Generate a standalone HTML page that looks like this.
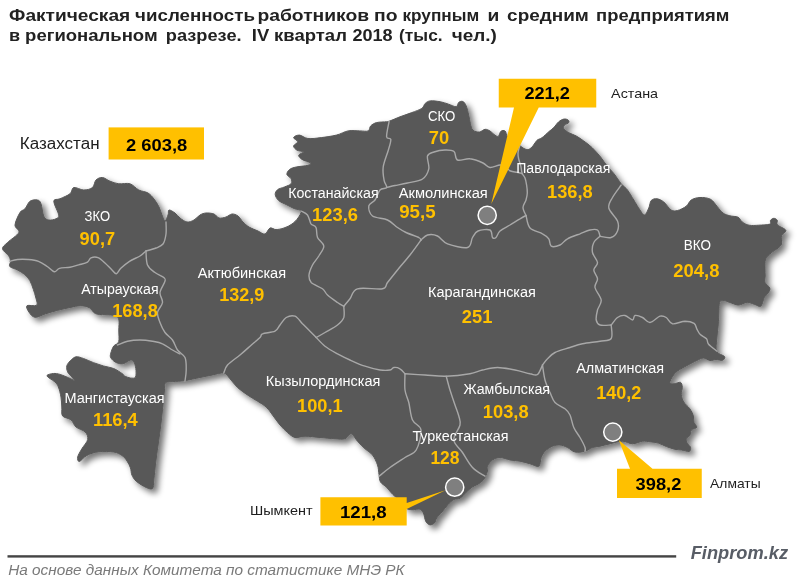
<!DOCTYPE html>
<html lang="ru"><head><meta charset="utf-8"><title>Фактическая численность работников</title>
<style>
html,body{margin:0;padding:0;background:#fff}
body{width:800px;height:586px;position:relative;overflow:hidden;font-family:"Liberation Sans","DejaVu Sans",sans-serif}
svg text{white-space:pre}
</style></head><body>
<svg width="800" height="586" viewBox="0 0 800 586" style="position:absolute;left:0;top:0">
<defs><filter id="sh" x="-5%" y="-5%" width="112%" height="112%"><feGaussianBlur in="SourceAlpha" stdDeviation="3"/><feOffset dx="4" dy="4"/><feComponentTransfer><feFuncA type="linear" slope="0.55"/></feComponentTransfer><feMerge><feMergeNode/><feMergeNode in="SourceGraphic"/></feMerge></filter></defs>
<path d="M2.5,248.8C2.3,246.5 4.8,245.2 7.5,242.5C10.2,239.8 17.5,235.4 18.8,232.5C20.0,229.6 14.8,228.3 15.0,225.0C15.2,221.7 18.3,215.2 20.0,212.5C21.7,209.8 23.3,210.6 25.0,208.8C26.7,206.9 27.9,202.7 30.0,201.2C32.1,199.8 35.7,199.6 37.5,200.0C39.3,200.4 40.0,201.0 41.0,203.8C42.0,206.5 42.5,213.5 43.8,216.2C45.0,219.0 46.7,219.6 48.8,220.0C50.8,220.4 54.3,219.6 56.0,218.8C57.7,217.9 59.1,217.9 58.8,215.0C58.4,212.1 53.5,204.0 53.8,201.2C54.0,198.5 57.3,200.0 60.0,198.8C62.7,197.5 67.7,195.6 70.0,193.8C72.3,191.9 71.5,188.1 73.8,187.5C76.0,186.9 80.6,190.0 83.8,190.0C86.9,190.0 90.5,189.2 92.5,187.5C94.5,185.8 94.3,181.7 96.0,180.0C97.7,178.3 100.2,177.3 102.5,177.5C104.8,177.7 107.3,180.2 110.0,181.2C112.7,182.3 115.4,183.3 118.8,183.8C122.1,184.2 126.7,182.7 130.0,183.8C133.3,184.8 135.8,188.5 138.8,190.0C141.8,191.5 145.5,191.5 148.0,193.0C150.5,194.5 152.2,196.7 154.0,199.0C155.8,201.3 157.7,204.3 159.0,207.0C160.3,209.7 161.0,212.7 162.0,215.0C163.0,217.3 164.0,221.0 165.0,221.0C166.0,221.0 167.3,216.8 168.0,215.0C168.7,213.2 167.8,210.3 169.0,210.0C170.2,209.7 173.2,211.7 175.0,213.0C176.8,214.3 178.0,216.5 180.0,218.0C182.0,219.5 184.7,221.7 187.0,222.0C189.3,222.3 191.8,221.2 194.0,220.0C196.2,218.8 198.0,216.2 200.0,215.0C202.0,213.8 203.7,213.2 206.0,213.0C208.3,212.8 211.8,213.2 214.0,214.0C216.2,214.8 217.0,217.5 219.0,218.0C221.0,218.5 223.8,217.7 226.0,217.0C228.2,216.3 230.0,214.2 232.0,214.0C234.0,213.8 236.2,214.7 238.0,216.0C239.8,217.3 241.2,220.2 243.0,222.0C244.8,223.8 246.5,225.5 249.0,227.0C251.5,228.5 255.3,229.8 258.0,231.0C260.7,232.2 263.0,234.5 265.0,234.0C267.0,233.5 268.2,228.7 270.0,228.0C271.8,227.3 273.7,229.6 276.0,229.6C278.3,229.6 281.3,228.9 284.0,228.0C286.7,227.1 289.7,225.7 292.0,224.0C294.3,222.3 296.5,220.2 298.0,218.0C299.5,215.8 301.7,212.6 301.0,211.0C300.3,209.4 296.5,209.6 294.0,208.5C291.5,207.4 288.7,205.8 286.1,204.5C283.5,203.2 280.4,202.2 278.6,200.5C276.8,198.8 275.4,196.4 275.2,194.6C275.0,192.8 276.2,190.9 277.7,189.6C279.2,188.3 282.2,188.0 284.4,187.0C286.6,186.0 290.0,185.1 291.1,183.7C292.2,182.3 291.8,180.2 291.1,178.7C290.4,177.2 287.2,176.0 286.9,174.5C286.6,173.0 287.9,170.8 289.5,169.5C291.1,168.2 293.1,167.7 296.2,167.0C299.3,166.3 305.5,166.0 307.9,165.3C310.3,164.6 311.4,163.8 310.4,162.8C309.4,161.8 303.9,160.7 302.0,159.4C300.1,158.1 298.4,156.4 298.7,155.2C299.0,153.9 304.0,152.7 303.7,151.9C303.4,151.1 298.7,151.2 297.0,150.2C295.3,149.2 293.5,147.4 293.6,146.0C293.7,144.6 297.8,143.2 297.8,141.8C297.8,140.4 293.3,138.7 293.6,137.6C293.9,136.5 297.1,134.9 299.5,135.1C301.9,135.2 304.3,138.1 307.9,138.5C311.5,138.9 316.6,138.2 321.3,137.6C326.1,137.0 331.9,136.2 336.4,135.1C340.9,134.0 344.2,131.6 348.1,130.9C352.0,130.2 356.5,130.9 359.8,130.9C363.1,130.9 366.4,131.7 368.2,130.9C370.0,130.1 369.3,127.3 370.7,125.9C372.1,124.5 374.0,123.3 376.6,122.6C379.2,121.9 384.4,122.0 386.6,121.7C388.8,121.4 387.8,121.7 390.0,120.9C392.2,120.1 396.4,118.2 400.0,116.8C403.6,115.4 408.2,114.0 411.8,112.6C415.4,111.2 419.6,109.9 421.8,108.4C424.0,106.9 423.8,104.7 425.2,103.4C426.6,102.2 427.7,101.2 430.2,100.9C432.7,100.6 437.1,101.2 440.2,101.7C443.3,102.2 445.9,103.4 448.6,104.2C451.3,105.0 454.5,107.0 456.2,106.7C457.9,106.4 457.6,103.3 458.7,102.4C459.8,101.5 461.6,100.9 462.9,101.5C464.1,102.1 465.2,103.6 466.2,105.9C467.2,108.2 468.0,112.2 468.7,115.1C469.4,118.0 469.7,121.0 470.4,123.5C471.1,126.0 471.4,128.8 472.9,130.2C474.4,131.6 477.5,132.2 479.5,132.0C481.5,131.8 483.2,129.5 485.0,129.3C486.8,129.1 488.3,130.0 490.0,131.0C491.7,132.0 493.6,134.3 495.0,135.2C496.4,136.1 497.4,136.8 498.4,136.2C499.4,135.5 499.8,132.2 500.9,131.3C502.0,130.4 504.0,130.1 505.1,131.0C506.2,131.9 506.3,135.3 507.6,136.8C508.9,138.3 511.1,138.6 513.0,140.0C514.9,141.4 517.0,143.5 519.0,145.0C521.0,146.5 523.3,148.3 525.0,149.0C526.7,149.7 527.7,149.8 529.0,149.3C530.3,148.8 531.7,147.3 533.0,145.8C534.3,144.3 535.5,141.7 537.0,140.3C538.5,139.0 540.0,139.1 542.0,137.7C544.0,136.3 546.8,133.5 548.7,131.8C550.7,130.1 552.0,129.3 553.7,127.6C555.4,125.9 557.0,123.2 558.7,121.8C560.4,120.4 562.2,119.4 563.7,119.1C565.2,118.8 567.0,119.2 567.9,119.8C568.8,120.4 569.3,121.7 568.8,122.6C568.2,123.5 565.5,124.1 564.6,125.1C563.8,126.1 563.0,127.2 563.7,128.5C564.4,129.8 566.7,131.4 568.8,132.7C570.9,133.9 573.8,134.6 576.3,136.0C578.8,137.4 581.1,139.1 583.8,141.0C586.4,142.9 589.4,145.0 592.2,147.7C595.0,150.4 598.1,153.9 600.6,157.0C603.1,160.1 605.1,163.4 607.3,166.2C609.5,169.0 611.7,170.8 614.0,173.7C616.3,176.6 619.0,181.0 621.2,183.8C623.5,186.5 625.4,187.3 627.5,190.0C629.6,192.7 631.7,196.7 633.8,200.0C635.8,203.3 638.2,207.5 640.0,210.0C641.8,212.5 643.0,215.3 644.5,215.0C646.0,214.7 647.6,210.4 648.8,208.0C649.9,205.6 649.9,202.0 651.2,200.5C652.6,199.0 654.9,198.5 657.0,198.8C659.1,199.0 661.4,200.1 663.8,202.0C666.1,203.9 669.0,208.6 671.2,210.0C673.5,211.4 675.0,211.1 677.5,210.5C680.0,209.9 684.0,208.0 686.2,206.2C688.5,204.5 689.0,201.5 691.2,200.0C693.5,198.5 696.8,197.6 700.0,197.5C703.2,197.4 707.7,197.7 710.6,199.3C713.5,200.9 715.4,204.6 717.5,206.9C719.6,209.2 720.9,211.5 723.0,213.0C725.1,214.5 727.4,215.1 729.9,215.8C732.4,216.5 736.0,216.2 738.1,217.2C740.2,218.2 740.5,220.7 742.3,222.0C744.1,223.3 746.4,224.7 749.1,225.2C751.9,225.7 755.3,225.4 758.8,225.2C762.2,225.0 767.8,224.9 769.8,224.1C771.8,223.3 769.8,221.3 770.5,220.3C771.2,219.3 772.8,218.3 773.9,218.3C775.0,218.3 776.7,219.2 777.3,220.3C777.9,221.4 776.1,223.1 777.5,224.8C778.9,226.5 785.1,228.5 785.8,230.3C786.5,232.1 782.2,233.5 781.5,235.8C780.8,238.1 782.1,241.9 781.5,244.0C780.9,246.1 779.7,246.6 778.0,248.1C776.3,249.6 773.2,251.2 771.1,253.0C769.0,254.8 766.6,256.5 765.6,259.1C764.6,261.7 765.1,266.0 765.0,268.8C764.9,271.6 765.2,273.7 765.2,276.0C765.2,278.3 764.2,280.4 765.0,282.4C765.8,284.4 769.2,286.2 769.8,287.9C770.4,289.6 769.3,291.1 768.4,292.7C767.5,294.3 765.6,295.2 764.3,297.5C763.0,299.8 762.4,305.1 760.8,306.2C759.2,307.3 756.9,305.0 754.6,304.4C752.3,303.8 749.7,302.2 747.1,302.3C744.5,302.4 741.4,305.0 738.8,305.1C736.2,305.2 733.9,303.8 731.3,303.0C728.7,302.2 725.0,300.4 723.0,300.3C721.0,300.2 720.3,300.7 719.6,302.5C718.9,304.3 719.1,307.6 718.9,311.3C718.7,315.1 718.6,320.4 718.2,325.0C717.9,329.6 717.0,334.4 716.8,338.8C716.5,343.2 715.4,348.6 716.7,351.5C718.0,354.4 723.5,355.0 724.5,356.5C725.5,358.0 723.9,359.8 722.5,360.3C721.1,360.8 718.1,359.5 716.0,359.5C713.9,359.5 712.1,360.8 710.0,360.5C707.9,360.2 705.7,358.0 703.5,358.0C701.3,358.0 699.5,359.2 696.8,360.5C694.1,361.8 690.3,363.8 687.1,365.5C683.9,367.2 679.9,369.2 677.5,371.0C675.1,372.8 674.0,374.4 672.7,376.3C671.4,378.2 669.7,381.4 669.9,382.7C670.1,383.9 672.3,383.9 674.1,383.8C675.9,383.7 679.1,381.7 680.5,382.3C681.9,382.9 682.2,385.3 682.3,387.3C682.4,389.3 681.1,392.1 681.3,394.5C681.5,396.9 682.3,399.5 683.7,401.9C685.1,404.3 688.3,406.5 689.9,408.8C691.5,411.1 692.6,413.3 693.3,415.6C694.0,417.9 693.4,420.6 694.0,422.5C694.6,424.4 697.2,426.0 696.8,427.3C696.3,428.6 692.4,428.7 691.3,430.1C690.1,431.5 690.7,434.2 689.9,435.6C689.1,437.0 687.0,437.1 686.5,438.3C686.0,439.6 686.4,441.6 687.1,443.1C687.8,444.6 690.2,445.9 690.6,447.3C691.0,448.7 690.7,450.9 689.2,451.4C687.7,451.8 684.0,450.4 681.6,450.0C679.2,449.6 677.3,449.9 674.8,449.3C672.3,448.7 669.2,447.6 666.5,446.6C663.8,445.6 661.0,443.9 658.3,443.1C655.5,442.3 652.6,442.1 650.0,441.8C647.4,441.5 645.4,440.9 642.5,441.2C639.6,441.6 635.8,443.8 632.5,443.8C629.2,443.8 626.2,441.2 622.5,441.2C618.8,441.2 613.8,442.9 610.0,443.8C606.2,444.6 602.9,445.6 600.0,446.2C597.1,446.9 595.0,446.7 592.5,447.5C590.0,448.3 587.9,450.5 585.0,451.2C582.1,452.0 577.9,452.6 575.0,452.0C572.1,451.4 570.0,448.7 567.5,447.5C565.0,446.3 562.5,445.2 560.0,445.0C557.5,444.8 555.0,445.2 552.5,446.2C550.0,447.3 546.9,449.4 545.0,451.2C543.1,453.1 542.3,455.0 541.2,457.5C540.2,460.0 540.6,465.2 538.8,466.2C536.9,467.3 533.1,464.6 530.0,463.8C526.9,462.9 523.3,461.9 520.0,461.2C516.7,460.6 513.3,460.6 510.0,460.0C506.7,459.4 502.9,457.5 500.0,457.5C497.1,457.5 494.6,458.5 492.5,460.0C490.4,461.5 488.3,464.4 487.5,466.2C486.7,468.1 487.8,469.3 487.5,471.0C487.2,472.7 486.2,474.9 485.5,476.5C484.8,478.1 484.2,479.2 483.0,480.5C481.8,481.8 479.8,483.1 478.0,484.2C476.2,485.3 474.0,485.8 472.0,487.2C470.0,488.6 468.0,490.6 466.0,492.5C464.0,494.4 462.0,497.1 460.0,498.3C458.0,499.5 456.0,498.5 454.0,499.5C452.0,500.5 450.0,502.4 448.0,504.5C446.0,506.6 443.9,509.8 442.0,512.0C440.1,514.2 437.9,516.2 436.7,518.0C435.4,519.8 435.6,521.9 434.5,523.0C433.4,524.1 431.4,525.1 430.0,524.9C428.6,524.6 426.9,523.5 425.8,521.5C424.7,519.5 424.4,515.0 423.4,513.0C422.3,510.9 421.1,509.7 419.5,509.2C417.9,508.7 415.5,509.8 413.5,509.8C411.5,509.8 409.1,509.8 407.5,509.0C405.9,508.2 405.4,506.6 404.0,505.0C402.6,503.4 400.6,501.0 399.0,499.5C397.4,498.0 396.0,497.4 394.7,496.2C393.4,495.0 392.4,494.0 391.0,492.5C389.6,491.0 388.2,488.9 386.5,487.2C384.8,485.4 381.8,484.1 380.5,482.0C379.2,479.9 379.5,477.3 379.0,474.5C378.5,471.7 378.6,468.2 377.5,465.0C376.4,461.8 374.6,457.7 372.5,455.0C370.4,452.3 367.5,451.0 365.0,448.8C362.5,446.5 359.8,443.8 357.5,441.2C355.2,438.8 353.3,434.2 351.2,433.8C349.2,433.3 347.7,437.9 345.0,438.8C342.3,439.6 339.2,439.0 335.0,438.8C330.8,438.5 325.0,437.9 320.0,437.5C315.0,437.1 309.2,436.2 305.0,436.2C300.8,436.2 297.9,438.1 295.0,437.5C292.1,436.9 290.0,434.6 287.5,432.5C285.0,430.4 282.5,427.9 280.0,425.0C277.5,422.1 274.8,418.0 272.5,415.0C270.2,412.0 268.8,409.3 266.2,407.0C263.8,404.7 260.6,403.2 257.5,401.2C254.4,399.2 250.8,397.3 247.5,395.0C244.2,392.7 240.4,390.2 237.5,387.5C234.6,384.8 232.3,381.2 230.0,378.8C227.7,376.3 226.7,373.6 223.8,373.0C220.8,372.4 216.5,374.2 212.5,375.0C208.5,375.8 204.6,376.6 200.0,377.5C195.4,378.4 189.5,379.9 185.0,380.6C180.5,381.3 175.9,381.3 172.8,381.6C169.7,381.9 167.8,381.8 166.5,382.3C165.2,382.8 165.2,383.1 164.8,384.5C164.5,385.9 164.7,387.6 164.4,391.0C164.1,394.4 163.6,399.3 163.0,405.0C162.4,410.7 161.6,418.8 160.8,425.0C160.1,431.2 159.3,436.2 158.5,442.0C157.7,447.8 156.8,453.7 156.0,460.0C155.2,466.3 154.4,475.2 153.8,480.0C153.2,484.8 153.8,487.2 152.5,488.5C151.2,489.8 149.0,488.7 146.2,487.5C143.5,486.3 138.6,483.3 136.2,481.2C133.9,479.2 132.9,477.2 131.9,475.0C130.9,472.8 131.3,470.3 130.5,468.0C129.7,465.7 128.4,463.1 127.0,461.0C125.6,458.9 124.2,457.0 122.0,455.5C119.8,454.0 117.6,452.6 113.7,452.0C109.8,451.4 103.1,451.2 98.6,451.8C94.1,452.4 90.1,453.8 86.9,455.4C83.7,457.0 80.9,461.2 79.4,461.5C77.9,461.8 77.3,459.1 77.7,457.0C78.1,454.9 80.2,451.6 81.9,448.7C83.6,445.8 87.2,442.3 87.7,439.5C88.2,436.7 87.2,434.1 85.2,432.0C83.2,429.9 78.4,429.0 76.0,427.0C73.6,425.0 73.2,421.6 71.0,419.8C68.8,418.0 64.1,418.1 62.6,416.0C61.1,413.9 62.1,410.2 61.8,407.0C61.5,403.8 61.6,400.3 61.0,397.0C60.4,393.7 59.4,389.5 58.4,387.0C57.4,384.5 56.4,383.4 55.0,382.0C53.6,380.6 51.3,379.7 50.0,378.6C48.7,377.5 46.4,376.2 47.0,375.4C47.6,374.5 51.2,373.7 53.4,373.5C55.6,373.3 57.6,373.7 60.1,374.4C62.6,375.1 66.1,376.7 68.5,377.7C70.9,378.7 73.8,380.5 74.3,380.4C74.8,380.3 72.9,378.3 71.8,376.9C70.7,375.5 68.4,373.7 67.6,371.9C66.8,370.1 66.4,367.8 66.8,366.0C67.2,364.2 68.6,362.5 70.1,361.0C71.6,359.5 73.8,357.2 76.0,356.8C78.2,356.4 80.6,357.5 83.5,358.5C86.4,359.5 90.2,361.4 93.6,362.7C96.9,363.9 100.2,365.0 103.6,366.0C106.9,367.0 110.5,367.2 113.7,368.5C116.9,369.8 120.7,372.6 122.5,373.8C124.3,375.1 123.2,375.3 124.5,376.0C125.8,376.7 128.7,377.8 130.5,378.0C132.3,378.2 134.6,378.6 135.5,377.0C136.4,375.4 136.1,371.0 135.8,368.5C135.5,366.0 134.7,363.2 133.8,361.8C132.9,360.4 132.2,359.7 130.5,360.0C128.8,360.3 125.8,362.9 123.8,363.5C121.8,364.1 120.4,363.9 118.7,363.5C117.0,363.1 115.1,362.1 113.7,361.0C112.3,359.9 110.8,358.3 110.4,356.8C110.0,355.3 110.7,353.6 111.2,351.8C111.8,350.0 112.5,347.7 113.7,346.0C115.0,344.3 117.9,344.4 118.7,341.7C119.5,339.0 118.7,333.6 118.8,330.0C118.8,326.4 119.4,322.4 118.9,320.0C118.4,317.6 117.9,316.6 115.6,315.7C113.3,314.8 108.4,315.0 105.0,314.7C101.6,314.4 98.0,314.8 95.4,313.6C92.8,312.4 91.8,309.0 89.3,307.7C86.8,306.4 83.7,305.7 80.5,305.7C77.3,305.7 73.8,306.7 70.0,307.5C66.2,308.3 61.9,309.2 57.8,310.3C53.7,311.4 49.3,312.6 45.5,313.8C41.7,315.0 37.8,317.6 35.0,317.3C32.2,317.0 30.2,313.9 28.9,312.0C27.6,310.1 25.7,306.8 27.0,305.7C28.3,304.6 35.1,306.6 36.6,305.3C38.1,304.0 36.5,300.7 35.9,298.0C35.3,295.3 34.3,292.2 33.3,289.3C32.3,286.4 31.3,283.0 29.8,280.5C28.3,278.0 26.6,276.1 24.5,274.4C22.4,272.6 19.9,271.3 17.5,270.0C15.1,268.7 11.0,267.9 9.8,266.5C8.6,265.1 10.7,263.1 10.5,261.3C10.3,259.6 10.1,258.1 8.8,256.0C7.4,253.9 2.7,251.0 2.5,248.8Z" fill="#595959" stroke="#595959" stroke-width="1" stroke-linejoin="round" filter="url(#sh)"/>
<g fill="none" stroke="#a8a8a8" stroke-width="1.4" stroke-linejoin="round" stroke-linecap="round">
<path d="M10.0,261.3C11.2,261.0 14.5,259.8 17.5,259.5C20.5,259.2 24.5,259.2 28.0,259.5C31.5,259.8 35.3,260.1 38.5,261.3C41.7,262.5 44.7,264.8 47.3,266.5C49.9,268.2 52.3,271.5 54.3,271.8C56.3,272.1 56.9,269.1 59.5,268.3C62.1,267.5 66.8,267.8 70.0,267.2C73.2,266.6 75.9,265.6 78.8,264.8C81.7,264.0 85.5,263.3 87.5,262.1C89.5,260.9 89.2,258.6 91.0,257.8C92.8,257.1 95.7,256.7 98.0,257.6C100.3,258.5 102.7,260.9 105.0,263.0C107.3,265.1 110.1,268.2 112.0,270.0C113.9,271.8 114.9,274.0 116.4,273.7C117.9,273.4 118.6,270.4 120.8,268.3C123.0,266.2 126.3,263.4 129.5,261.3C132.7,259.2 137.2,257.7 140.0,256.0C142.8,254.3 145.0,251.8 146.0,251.0"/>
<path d="M146.0,251.0C147.7,250.5 153.2,249.2 156.0,248.0C158.8,246.8 161.3,246.3 163.0,244.0C164.7,241.7 165.5,237.7 166.0,234.0C166.5,230.3 166.0,224.0 166.0,222.0"/>
<path d="M146.0,251.0C146.2,253.3 146.0,261.4 147.5,265.0C149.0,268.6 152.3,270.4 155.0,272.5C157.7,274.6 162.1,276.0 163.8,277.5C165.4,279.0 165.6,278.8 165.0,281.2C164.4,283.8 160.4,289.0 160.0,292.5C159.6,296.0 162.9,299.2 162.5,302.5C162.1,305.8 157.9,309.2 157.5,312.5C157.1,315.8 158.8,319.2 160.0,322.5C161.2,325.8 162.9,329.6 165.0,332.5C167.1,335.4 170.4,337.1 172.5,340.0C174.6,342.9 175.4,347.1 177.5,350.0C179.6,352.9 183.5,354.2 185.0,357.5C186.5,360.8 186.2,366.1 186.2,370.0C186.2,373.9 185.2,379.2 185.0,381.0"/>
<path d="M117.5,345.0C119.2,344.4 123.8,342.1 127.5,341.2C131.2,340.4 135.8,340.0 140.0,340.0C144.2,340.0 148.8,340.6 152.5,341.2C156.2,341.9 159.2,342.3 162.5,343.8C165.8,345.2 169.6,348.3 172.5,350.0C175.4,351.7 178.8,353.3 180.0,354.0"/>
<path d="M301.0,211.0C302.1,211.7 305.8,212.9 307.5,215.0C309.2,217.1 309.6,221.7 311.0,223.8C312.4,225.8 314.9,225.2 316.0,227.5C317.1,229.8 316.2,234.4 317.5,237.5C318.8,240.6 323.5,242.9 323.8,246.0C324.0,249.1 320.6,252.8 318.8,256.0C316.9,259.2 314.1,261.8 312.5,265.0C310.9,268.2 309.2,272.1 309.0,275.0C308.8,277.9 309.0,280.2 311.2,282.5C313.5,284.8 319.8,286.7 322.5,288.8C325.2,290.8 325.0,292.7 327.5,295.0C330.0,297.3 334.8,300.6 337.5,302.5C340.2,304.4 342.7,305.6 343.8,306.2"/>
<path d="M343.8,306.2C343.8,308.1 344.8,314.4 343.8,317.5C342.7,320.6 340.6,322.5 337.5,325.0C334.4,327.5 328.5,330.4 325.0,332.5C321.5,334.6 317.7,336.7 316.2,337.5"/>
<path d="M223.8,373.0C224.4,371.7 224.8,368.0 227.5,365.0C230.2,362.0 236.2,358.1 240.0,355.0C243.8,351.9 246.7,349.2 250.0,346.2C253.3,343.3 257.9,339.6 260.0,337.5C262.1,335.4 260.0,334.8 262.5,333.8C265.0,332.7 272.1,332.7 275.0,331.2C277.9,329.8 278.1,327.3 280.0,325.0C281.9,322.7 283.8,319.0 286.2,317.5C288.8,316.0 292.3,315.2 295.0,316.2C297.7,317.3 300.0,321.2 302.5,323.8C305.0,326.2 307.7,329.0 310.0,331.2C312.3,333.5 315.2,336.5 316.2,337.5"/>
<path d="M316.2,337.5C317.7,339.0 321.5,343.5 325.0,346.2C328.5,349.0 333.3,351.5 337.5,353.8C341.7,356.0 345.4,357.9 350.0,360.0C354.6,362.1 360.0,364.6 365.0,366.2C370.0,367.9 375.8,369.4 380.0,370.0C384.2,370.6 387.7,370.4 390.0,370.0C392.3,369.6 392.1,367.7 393.8,367.5C395.4,367.3 398.1,367.7 400.0,368.8C401.9,369.8 404.2,372.9 405.0,373.8"/>
<path d="M405.0,373.8C408.3,374.0 418.1,374.6 425.0,375.0C431.9,375.4 438.8,376.5 446.2,376.2C453.8,376.0 464.0,374.8 470.0,373.8C476.0,372.7 477.9,371.0 482.5,370.0C487.1,369.0 492.1,367.5 497.5,367.5C502.9,367.5 509.6,369.0 515.0,370.0C520.4,371.0 526.2,373.0 530.0,373.8C533.8,374.5 535.4,376.0 537.5,374.5C539.6,373.0 541.7,366.6 542.5,365.0"/>
<path d="M343.8,306.2C344.8,305.0 347.7,301.7 350.0,298.8C352.3,295.8 352.1,290.4 357.5,288.8C362.9,287.1 377.5,289.8 382.5,288.8C387.5,287.7 385.0,285.6 387.5,282.5C390.0,279.4 393.8,274.6 397.5,270.0C401.2,265.4 406.1,260.0 410.0,255.0C413.9,250.0 419.2,242.5 421.0,240.0"/>
<path d="M389.1,121.3C388.7,123.9 386.3,133.8 386.6,136.8C386.9,139.8 390.5,137.1 390.8,139.3C391.1,141.5 389.6,145.6 388.3,150.2C387.0,154.8 383.9,162.0 383.2,167.0C382.5,172.0 383.5,177.0 384.1,180.4C384.7,183.8 387.3,185.9 386.6,187.5C385.9,189.1 381.9,187.9 380.0,190.0C378.1,192.1 376.9,197.3 375.0,200.0C373.1,202.7 369.2,203.3 368.8,206.0C368.3,208.7 369.4,213.7 372.5,216.0C375.6,218.3 383.3,218.1 387.5,220.0C391.7,221.9 394.4,225.4 397.5,227.5C400.6,229.6 402.5,230.8 406.0,232.5C409.5,234.2 416.2,236.2 418.8,237.5C421.2,238.8 420.6,239.6 421.0,240.0"/>
<path d="M386.6,187.5C388.0,187.2 391.5,186.2 395.0,185.5C398.5,184.8 402.9,184.1 407.5,183.0C412.1,181.9 419.0,181.4 422.5,179.0C426.0,176.6 427.9,172.6 428.8,168.8C429.6,164.9 426.6,158.8 427.5,156.0C428.4,153.2 431.1,153.0 434.0,152.0C436.9,151.0 441.7,150.1 445.0,150.0C448.3,149.9 451.9,149.8 454.0,151.5C456.1,153.2 454.8,158.8 457.5,160.0C460.2,161.2 465.8,158.2 470.0,158.8C474.2,159.2 479.7,161.5 483.0,163.0C486.3,164.5 487.2,167.2 490.0,167.5C492.8,167.8 497.5,165.1 500.0,165.0C502.5,164.9 503.2,166.0 505.0,167.0C506.8,168.0 508.5,170.1 510.5,171.0C512.5,171.9 515.1,171.9 517.0,172.3C518.9,172.7 521.2,173.3 522.0,173.5"/>
<path d="M522.0,173.5C521.8,172.2 521.3,168.4 520.8,166.0C520.2,163.6 519.2,161.2 518.7,159.0C518.2,156.8 517.9,155.1 518.0,153.0C518.1,150.9 519.2,147.6 519.5,146.5"/>
<path d="M522.0,173.5C522.5,174.2 524.2,176.1 525.0,178.0C525.8,179.9 526.2,182.5 526.6,185.0C527.0,187.5 527.4,190.5 527.3,193.0C527.2,195.5 526.7,197.6 526.0,200.0C525.3,202.4 523.0,204.9 523.0,207.5C523.0,210.1 525.5,214.2 526.0,215.5"/>
<path d="M421.0,240.0C422.1,239.2 424.8,235.7 427.5,235.0C430.2,234.3 434.2,234.5 437.5,236.0C440.8,237.5 442.5,241.8 447.5,243.8C452.5,245.7 463.3,248.5 467.5,247.5C471.7,246.5 470.8,240.2 472.5,237.5C474.2,234.8 475.1,232.2 478.0,231.0C480.9,229.8 487.6,228.9 490.0,230.0C492.4,231.1 491.5,236.2 492.5,237.5C493.5,238.8 494.8,238.6 496.0,237.5C497.2,236.4 497.7,233.1 500.0,231.0C502.3,228.9 506.7,227.0 510.0,225.0C513.3,223.0 517.3,220.3 520.0,218.8C522.7,217.2 525.0,216.0 526.0,215.5"/>
<path d="M526.0,215.5C526.7,217.6 527.2,225.0 530.0,228.0C532.8,231.0 539.4,232.0 542.5,233.8C545.6,235.5 547.3,236.7 548.8,238.8C550.2,240.8 549.4,245.2 551.2,246.2C553.1,247.3 557.3,246.2 560.0,245.0C562.7,243.8 564.2,240.6 567.5,238.8C570.8,236.9 576.2,235.2 580.0,233.8C583.8,232.3 587.1,230.6 590.0,230.0C592.9,229.4 595.8,229.0 597.5,230.0C599.2,231.0 599.6,235.2 600.0,236.2"/>
<path d="M621.2,185.0C619.8,187.1 614.6,193.7 612.5,197.5C610.4,201.3 607.9,204.1 608.8,208.0C609.6,211.9 616.0,217.2 617.5,221.0C619.0,224.8 618.6,228.2 617.5,231.0C616.4,233.8 613.9,236.6 611.0,237.5C608.1,238.4 601.8,236.5 600.0,236.2"/>
<path d="M600.0,236.2C599.0,237.3 595.0,239.8 593.8,242.5C592.5,245.2 591.9,249.2 592.5,252.5C593.1,255.8 597.3,259.6 597.5,262.5C597.7,265.4 593.8,267.3 593.8,270.0C593.8,272.7 597.3,275.8 597.5,278.8C597.7,281.7 594.4,284.0 595.0,287.5C595.6,291.0 600.8,296.2 601.2,300.0C601.7,303.8 598.3,306.7 597.5,310.0C596.7,313.3 595.8,317.5 596.2,320.0C596.7,322.5 597.5,324.2 600.0,325.0C602.5,325.8 609.4,325.0 611.2,325.0"/>
<path d="M611.2,325.0C612.3,323.8 615.2,319.1 617.5,317.5C619.8,315.9 622.5,315.1 625.0,315.5C627.5,315.9 630.8,320.0 632.5,320.0C634.2,320.0 633.3,315.9 635.0,315.5C636.7,315.1 640.0,316.3 642.5,317.5C645.0,318.7 647.1,322.7 650.0,322.5C652.9,322.3 657.3,317.1 660.0,316.2C662.7,315.4 664.2,316.2 666.2,317.5C668.3,318.8 669.4,323.1 672.5,323.8C675.6,324.4 681.4,321.3 685.0,321.2C688.6,321.2 692.1,322.1 694.1,323.4C696.1,324.7 695.9,327.2 696.9,329.1C697.9,331.0 698.7,333.0 700.3,334.6C701.9,336.2 705.1,337.2 706.5,338.8C707.9,340.4 706.9,342.3 708.6,344.3C710.3,346.3 715.4,349.9 716.7,351.0"/>
<path d="M611.2,325.0C611.2,327.2 613.1,335.8 611.2,338.5C609.4,341.2 604.8,340.4 600.0,341.2C595.2,342.1 587.5,342.7 582.5,343.8C577.5,344.8 574.6,346.0 570.0,347.5C565.4,349.0 558.8,350.6 555.0,352.5C551.2,354.4 549.6,356.7 547.5,358.8C545.4,360.8 543.3,364.0 542.5,365.0"/>
<path d="M542.5,365.0C542.9,367.5 543.8,375.4 545.0,380.0C546.2,384.6 548.3,388.8 550.0,392.5C551.7,396.2 552.5,399.8 555.0,402.5C557.5,405.2 562.5,406.7 565.0,408.8C567.5,410.8 568.5,411.9 570.0,415.0C571.5,418.1 572.1,423.8 573.8,427.5C575.4,431.2 578.1,434.2 580.0,437.5C581.9,440.8 584.2,445.2 585.0,447.5C585.8,449.8 585.0,450.6 585.0,451.2"/>
<path d="M446.2,376.2C446.9,378.5 448.5,385.2 450.0,390.0C451.5,394.8 453.5,400.7 455.0,405.0C456.5,409.3 457.9,412.7 458.8,416.0C459.6,419.3 460.8,421.0 460.0,425.0C459.2,429.0 453.3,435.4 453.8,440.0C454.2,444.6 459.4,447.9 462.5,452.5C465.6,457.1 468.8,463.5 472.5,467.5C476.2,471.5 482.9,474.8 485.0,476.2"/>
<path d="M405.0,373.8C405.0,376.5 404.4,385.2 405.0,390.0C405.6,394.8 407.5,397.5 408.8,402.5C410.0,407.5 410.5,415.4 412.5,420.0C414.5,424.6 420.4,425.0 421.0,430.0C421.6,435.0 418.9,445.4 416.2,450.0C413.6,454.6 409.4,454.6 405.0,457.5C400.6,460.4 394.3,464.4 390.0,467.5C385.7,470.6 381.1,474.6 379.3,476.0"/>
</g>
<path d="M498.75,78.75H596.25V107.5H538.75L491.25,204L514,107.5H498.75Z" fill="#ffc000"/>
<path d="M617,468.75H630L618.75,440L652.5,468.75H701.75V498H617Z" fill="#ffc000"/>
<path d="M320.4,497.2H406.7V503L445.5,490.3L406.7,509V525.6H320.4Z" fill="#ffc000"/>
<rect x="108.6" y="127.4" width="95.4" height="32.1" fill="#ffc000"/>
<circle cx="487.2" cy="215.3" r="9.1" fill="#7f7f7f" stroke="#fff" stroke-width="1.5"/>
<circle cx="612.8" cy="432.1" r="9.1" fill="#7f7f7f" stroke="#fff" stroke-width="1.5"/>
<circle cx="454.7" cy="487.2" r="9.1" fill="#7f7f7f" stroke="#fff" stroke-width="1.5"/>
<g font-family="'Liberation Sans','DejaVu Sans',sans-serif">
<text x="84.6" y="220.5" font-size="13.8" fill="#fff" textLength="25.5" lengthAdjust="spacingAndGlyphs">ЗКО</text>
<text x="81.2" y="293.8" font-size="13.8" fill="#fff" textLength="77.4" lengthAdjust="spacingAndGlyphs">Атырауская</text>
<text x="64.5" y="402.6" font-size="13.8" fill="#fff" textLength="100.1" lengthAdjust="spacingAndGlyphs">Мангистауская</text>
<text x="197.8" y="278.1" font-size="13.8" fill="#fff" textLength="88.3" lengthAdjust="spacingAndGlyphs">Актюбинская</text>
<text x="288.2" y="197.6" font-size="13.8" fill="#fff" textLength="90.4" lengthAdjust="spacingAndGlyphs">Костанайская</text>
<text x="427.9" y="120.7" font-size="13.8" fill="#fff" textLength="27.4" lengthAdjust="spacingAndGlyphs">СКО</text>
<text x="398.7" y="197.6" font-size="13.8" fill="#fff" textLength="89.1" lengthAdjust="spacingAndGlyphs">Акмолинская</text>
<text x="516.2" y="172.6" font-size="13.8" fill="#fff" textLength="94.1" lengthAdjust="spacingAndGlyphs">Павлодарская</text>
<text x="683.8" y="250.1" font-size="13.8" fill="#fff" textLength="27.2" lengthAdjust="spacingAndGlyphs">ВКО</text>
<text x="428.1" y="296.8" font-size="13.8" fill="#fff" textLength="107.8" lengthAdjust="spacingAndGlyphs">Карагандинская</text>
<text x="265.8" y="386.0" font-size="13.8" fill="#fff" textLength="114.6" lengthAdjust="spacingAndGlyphs">Кызылординская</text>
<text x="463.4" y="394.0" font-size="13.8" fill="#fff" textLength="86.6" lengthAdjust="spacingAndGlyphs">Жамбылская</text>
<text x="412.4" y="441.4" font-size="13.8" fill="#fff" textLength="96.2" lengthAdjust="spacingAndGlyphs">Туркестанская</text>
<text x="576.2" y="372.6" font-size="13.8" fill="#fff" textLength="87.9" lengthAdjust="spacingAndGlyphs">Алматинская</text>
<g font-weight="bold">
<text x="79.6" y="244.9" font-size="17.6" fill="#ffc000" textLength="35.5" lengthAdjust="spacingAndGlyphs">90,7</text>
<text x="112.2" y="317.2" font-size="17.6" fill="#ffc000" textLength="45.6" lengthAdjust="spacingAndGlyphs">168,8</text>
<text x="93.0" y="425.6" font-size="17.6" fill="#ffc000" textLength="44.8" lengthAdjust="spacingAndGlyphs">116,4</text>
<text x="219.3" y="300.8" font-size="17.6" fill="#ffc000" textLength="45.1" lengthAdjust="spacingAndGlyphs">132,9</text>
<text x="312.1" y="221.4" font-size="17.6" fill="#ffc000" textLength="45.9" lengthAdjust="spacingAndGlyphs">123,6</text>
<text x="428.8" y="144.2" font-size="17.6" fill="#ffc000" textLength="20.4" lengthAdjust="spacingAndGlyphs">70</text>
<text x="399.2" y="217.7" font-size="17.6" fill="#ffc000" textLength="36.4" lengthAdjust="spacingAndGlyphs">95,5</text>
<text x="547.1" y="197.7" font-size="17.6" fill="#ffc000" textLength="45.6" lengthAdjust="spacingAndGlyphs">136,8</text>
<text x="673.3" y="276.9" font-size="17.6" fill="#ffc000" textLength="46.1" lengthAdjust="spacingAndGlyphs">204,8</text>
<text x="461.8" y="323.3" font-size="17.6" fill="#ffc000" textLength="30.5" lengthAdjust="spacingAndGlyphs">251</text>
<text x="297.1" y="412.3" font-size="17.6" fill="#ffc000" textLength="45.6" lengthAdjust="spacingAndGlyphs">100,1</text>
<text x="482.8" y="418.0" font-size="17.6" fill="#ffc000" textLength="45.8" lengthAdjust="spacingAndGlyphs">103,8</text>
<text x="430.4" y="464.0" font-size="17.6" fill="#ffc000" textLength="29.2" lengthAdjust="spacingAndGlyphs">128</text>
<text x="596.3" y="398.6" font-size="17.6" fill="#ffc000" textLength="45.0" lengthAdjust="spacingAndGlyphs">140,2</text>
<text x="524.4" y="99.2" font-size="17.4" fill="#000" textLength="45.5" lengthAdjust="spacingAndGlyphs">221,2</text>
<text x="635.6" y="489.5" font-size="17.4" fill="#000" textLength="45.7" lengthAdjust="spacingAndGlyphs">398,2</text>
<text x="339.9" y="518.0" font-size="17.4" fill="#000" textLength="46.7" lengthAdjust="spacingAndGlyphs">121,8</text>
<text x="126.0" y="151.0" font-size="17.4" fill="#000" textLength="61.2" lengthAdjust="spacingAndGlyphs">2 603,8</text>
</g>
<text x="611.1" y="97.5" font-size="13.4" fill="#1e1e1e" textLength="47.0" lengthAdjust="spacingAndGlyphs">Астана</text>
<text x="710.1" y="487.5" font-size="13.4" fill="#1e1e1e" textLength="50.5" lengthAdjust="spacingAndGlyphs">Алматы</text>
<text x="249.9" y="515.0" font-size="13.4" fill="#1e1e1e" textLength="62.7" lengthAdjust="spacingAndGlyphs">Шымкент</text>
<text x="19.8" y="149.0" font-size="16" fill="#1e1e1e" textLength="79.8" lengthAdjust="spacingAndGlyphs">Казахстан</text>
<g font-weight="bold">
<text x="9.1" y="21.0" font-size="17" fill="#222" textLength="121.1" lengthAdjust="spacingAndGlyphs">Фактическая</text>
<text x="135.1" y="21.0" font-size="17" fill="#222" textLength="119.8" lengthAdjust="spacingAndGlyphs">численность</text>
<text x="257.4" y="21.0" font-size="17" fill="#222" textLength="111.8" lengthAdjust="spacingAndGlyphs">работников</text>
<text x="374.1" y="21.0" font-size="17" fill="#222" textLength="23.5" lengthAdjust="spacingAndGlyphs">по</text>
<text x="402.4" y="21.0" font-size="17" fill="#222" textLength="76.8" lengthAdjust="spacingAndGlyphs">крупным</text>
<text x="487.4" y="21.0" font-size="17" fill="#222" textLength="11.8" lengthAdjust="spacingAndGlyphs">и</text>
<text x="507.1" y="21.0" font-size="17" fill="#222" textLength="81.8" lengthAdjust="spacingAndGlyphs">средним</text>
<text x="596.1" y="21.0" font-size="17" fill="#222" textLength="133.3" lengthAdjust="spacingAndGlyphs">предприятиям</text>
<text x="9.1" y="41.4" font-size="17" fill="#222" textLength="11.1" lengthAdjust="spacingAndGlyphs">в</text>
<text x="25.1" y="41.4" font-size="17" fill="#222" textLength="132.5" lengthAdjust="spacingAndGlyphs">региональном</text>
<text x="165.8" y="41.4" font-size="17" fill="#222" textLength="75.8" lengthAdjust="spacingAndGlyphs">разрезе.</text>
<text x="251.8" y="41.4" font-size="17" fill="#222" textLength="17.4" lengthAdjust="spacingAndGlyphs">IV</text>
<text x="274.1" y="41.4" font-size="17" fill="#222" textLength="72.8" lengthAdjust="spacingAndGlyphs">квартал</text>
<text x="352.4" y="41.4" font-size="17" fill="#222" textLength="40.2" lengthAdjust="spacingAndGlyphs">2018</text>
<text x="399.1" y="41.4" font-size="17" fill="#222" textLength="43.5" lengthAdjust="spacingAndGlyphs">(тыс.</text>
<text x="451.8" y="41.4" font-size="17" fill="#222" textLength="45.1" lengthAdjust="spacingAndGlyphs">чел.)</text>
</g>
<text x="8.2" y="575.3" font-size="14" fill="#7a7a7a" textLength="396.4" lengthAdjust="spacingAndGlyphs" font-style="italic">На основе данных Комитета по статистике МНЭ РК</text>
<text x="690.7" y="558.8" font-size="17.5" fill="#585d66" textLength="97.4" lengthAdjust="spacingAndGlyphs" font-style="italic" font-weight="bold">Finprom.kz</text>
</g>
<rect x="7.5" y="555.2" width="668.7" height="2.4" fill="#454545"/>
</svg>
</body></html>
